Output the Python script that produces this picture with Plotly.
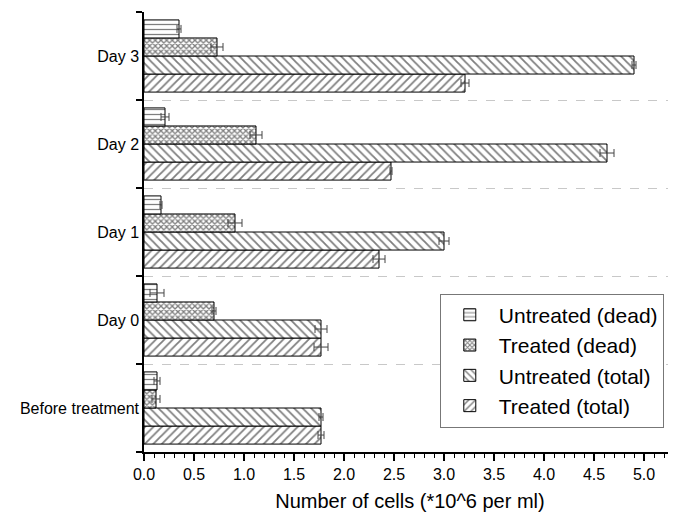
import plotly.graph_objects as go

categories = ["Before treatment", "Day 0", "Day 1", "Day 2", "Day 3"]

untreated_dead = [0.13, 0.13, 0.17, 0.21, 0.35]
untreated_dead_err = [0.03, 0.07, 0.01, 0.04, 0.02]
treated_dead = [0.12, 0.70, 0.91, 1.12, 0.73]
treated_dead_err = [0.04, 0.02, 0.07, 0.06, 0.06]
untreated_total = [1.77, 1.77, 3.00, 4.63, 4.90]
untreated_total_err = [0.02, 0.06, 0.05, 0.07, 0.02]
treated_total = [1.77, 1.77, 2.35, 2.47, 3.21]
treated_total_err = [0.03, 0.07, 0.06, 0.01, 0.04]

FONT = "Liberation Sans, Arial, sans-serif"

# plotly stacks horizontal groups bottom-up, so add the bottom bar first
series = [
    ("Treated (total)", treated_total, treated_total_err, "/", 6, 0.3),
    ("Untreated (total)", untreated_total, untreated_total_err, "\\", 6, 0.3),
    ("Treated (dead)", treated_dead, treated_dead_err, "x", 4, 0.55),
    ("Untreated (dead)", untreated_dead, untreated_dead_err, "-", 5, 0.25),
]

fig = go.Figure()
for name, vals, errs, shape, psize, solid in series:
    fig.add_trace(
        go.Bar(
            y=categories,
            x=vals,
            name=name,
            orientation="h",
            marker=dict(
                color="white",
                line=dict(color="black", width=1),
                pattern=dict(shape=shape, fgcolor="black", bgcolor="white",
                             size=psize, solidity=solid, fillmode="overlay"),
            ),
            error_x=dict(type="data", array=errs, visible=True,
                         color="#444444", thickness=1, width=4),
        )
    )

# page body adds an 8px offset, so the figure is drawn 8px smaller
fig.update_layout(
    width=668,
    height=507,
    margin=dict(l=136, r=0, t=4, b=63),
    plot_bgcolor="white",
    paper_bgcolor="white",
    barmode="group",
    bargap=0.18,
    bargroupgap=0,
    font=dict(family=FONT, size=16, color="black"),
    legend=dict(
        traceorder="reversed",
        x=0.556, y=0.36, xanchor="left", yanchor="top",
        bordercolor="#777777", borderwidth=1,
        bgcolor="white",
        font=dict(size=21),
        itemwidth=48,
        tracegroupgap=0,
    ),
    showlegend=True,
)

fig.update_xaxes(
    range=[0, 5.32],
    dtick=0.5,
    tickformat=".1f",
    automargin=False,
    showline=True, linecolor="black", linewidth=1.5,
    ticks="outside", ticklen=7, tickwidth=1.5, tickcolor="black",
    minor=dict(dtick=0.1, ticks="outside", ticklen=4, tickcolor="black", tickwidth=1),
    showgrid=False, zeroline=False,
    title=dict(text="Number of cells (*10^6 per ml)", font=dict(size=20), standoff=12),
)

fig.update_yaxes(
    range=[-0.5, 4.5],
    tickson="boundaries",
    automargin=False,
    showline=True, linecolor="black", linewidth=1.5,
    ticks="outside", ticklen=6, tickwidth=1.5, tickcolor="black",
    showgrid=True, gridcolor="#c8c8c8", griddash="dash", gridwidth=1,
    zeroline=False,
)

fig.write_html("out.html")
